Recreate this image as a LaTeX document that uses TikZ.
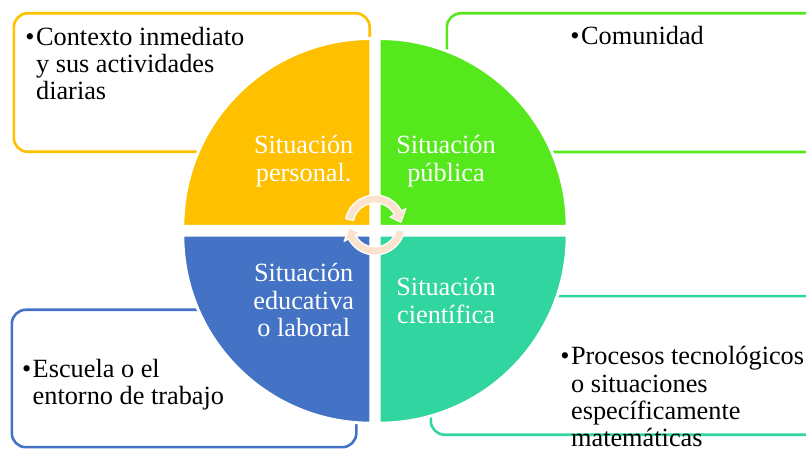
\documentclass[tikz,border=0pt]{standalone}
\usepackage{fontspec}
\usetikzlibrary{calc}
\setmainfont{Liberation Serif}
\definecolor{qorange}{RGB}{255,192,0}
\definecolor{qgreen}{RGB}{85,232,29}
\definecolor{qblue}{RGB}{68,114,196}
\definecolor{qteal}{RGB}{48,213,160}
\definecolor{peach}{RGB}{251,226,204}
\tikzset{
  boxline/.style={line width=2.6pt, rounded corners=14pt, fill=white},
  quad/.style={draw=white, line width=3pt},
  qlabel/.style={inner sep=0pt, anchor=base, text=white, font=\fontsize{26.3}{27.4}\selectfont},
  blabel/.style={inner sep=0pt, anchor=base west, text=black, font=\fontsize{26.3}{27.1}\selectfont},
  cyclearrow/.style={fill=peach, draw=white, line width=1.2pt, line join=round}
}
\begin{document}
\begin{tikzpicture}[x=1pt,y=1pt]
\useasboundingbox (0,0) rectangle (806,449);
\clip (0,0) rectangle (806,449);
% outer boxes
\draw[boxline, draw=qorange] (13.8,297.2) rectangle (369.7,435.7);
\draw[boxline, draw=qgreen] (446.8,297.0) rectangle (840,435.7);
\draw[boxline, draw=qblue] (11.8,1.8) rectangle (356.3,139.2);
\draw[boxline, draw=qteal] (430.8,14.2) rectangle (840,152.8);
% quadrants
\fill[fill=qorange] (370.8,222.5) -- (182.8,222.5) arc[start angle=180, end angle=90, radius=188] -- cycle;
\draw[quad] (370.8,222.5) -- (182.8,222.5) arc[start angle=180, end angle=90, radius=188] -- cycle;
\fill[fill=qgreen] (379.2,222.5) -- (567.2,222.5) arc[start angle=0, end angle=90, radius=188] -- cycle;
\draw[quad] (379.2,222.5) -- (567.2,222.5) arc[start angle=0, end angle=90, radius=188] -- cycle;
\fill[fill=qblue] (370.8,213.8) -- (182.8,213.8) arc[start angle=180, end angle=270, radius=188] -- cycle;
\draw[quad] (370.8,213.8) -- (182.8,213.8) arc[start angle=180, end angle=270, radius=188] -- cycle;
\fill[fill=qteal] (379.2,213.8) -- (567.2,213.8) arc[start angle=0, end angle=-90, radius=188] -- cycle;
\draw[quad] (379.2,213.8) -- (567.2,213.8) arc[start angle=0, end angle=-90, radius=188] -- cycle;
% quadrant labels
\node[qlabel] (personal) at (303.7,295) {\begin{tabular}[t]{@{}c@{}}Situación\\personal.\end{tabular}};
\node[qlabel] (publica) at (446,295) {\begin{tabular}[t]{@{}c@{}}Situación\\pública\end{tabular}};
\node[qlabel] (educativa) at (303.7,167) {\begin{tabular}[t]{@{}c@{}}Situación\\educativa\\o laboral\end{tabular}};
\node[qlabel] (cientifica) at (446,153.3) {\begin{tabular}[t]{@{}c@{}}Situación\\científica\end{tabular}};
% box texts
\node[blabel] (contexto) at (25.2,403.3) {\begin{tabular}[t]{@{}l@{\hspace{1.5pt}}l@{}}•&Contexto inmediato\\&y sus actividades\\&diarias\end{tabular}};
\node[blabel] (comunidad) at (570.2,404) {\begin{tabular}[t]{@{}l@{\hspace{1.5pt}}l@{}}•&Comunidad\end{tabular}};
\node[blabel] (escuela) at (21.8,71.7) {\begin{tabular}[t]{@{}l@{\hspace{1.5pt}}l@{}}•&Escuela o el\\&entorno de trabajo\end{tabular}};
\node[blabel] (procesos) at (560.2,84) {\begin{tabular}[t]{@{}l@{\hspace{1.5pt}}l@{}}•&Procesos tecnológicos\\&o situaciones\\&específicamente\\&matemáticas\end{tabular}};
% circular arrows
\coordinate (c1) at (375,224);
\draw[cyclearrow] ($(c1)+(168:30)$) arc[start angle=168, end angle=28, radius=30]
  -- ($(c1)+(28:35)$) -- ($(c1)+(6:26)$) -- ($(c1)+(28:17)$) -- ($(c1)+(28:22)$)
  arc[start angle=28, end angle=168, radius=22] -- cycle;
\begin{scope}[rotate around={180:(375,218.15)}]
\draw[cyclearrow] ($(c1)+(168:30)$) arc[start angle=168, end angle=28, radius=30]
  -- ($(c1)+(28:35)$) -- ($(c1)+(6:26)$) -- ($(c1)+(28:17)$) -- ($(c1)+(28:22)$)
  arc[start angle=28, end angle=168, radius=22] -- cycle;
\end{scope}
\end{tikzpicture}
\end{document}
